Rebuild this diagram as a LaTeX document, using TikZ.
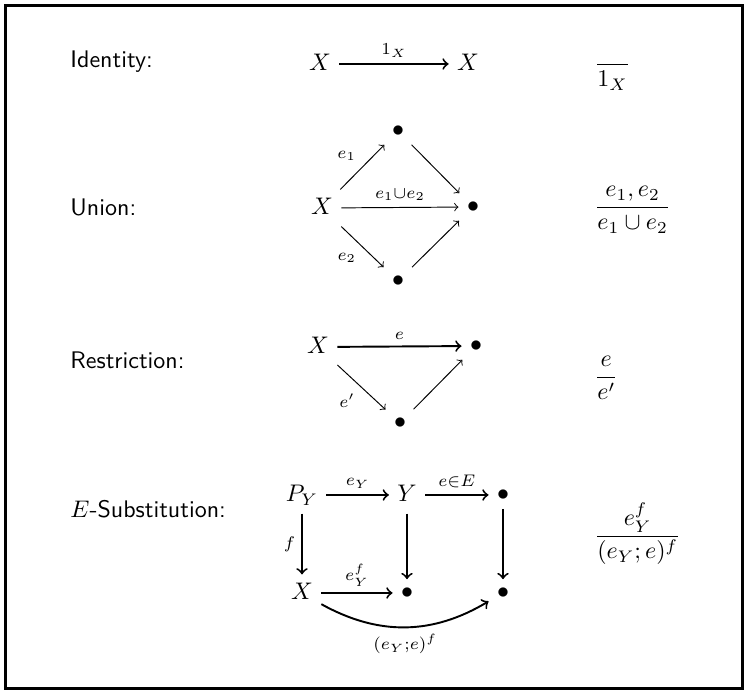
\documentclass[tikz,border=0pt]{standalone}
\usepackage{amsmath,amssymb}
\usetikzlibrary{arrows,positioning,calc}

\begin{document}
\begin{tikzpicture}[
    x=0.01465cm, y=-0.01465cm,
    rname/.style={font=\sffamily,anchor=west,inner sep=0pt},
    obj/.style={text height=1.6ex,text depth=0.35ex},
    pnt/.style={inner sep=3.33pt},
    infer/.style={anchor=base west,inner sep=0pt},
    arr/.style={->,>=to,line width=0.4pt},
    barr/.style={->,>=to,line width=0.8pt},
    lab/.style={inner sep=2.5pt,execute at begin node=$\scriptstyle,execute at end node=$}
]
    \useasboundingbox (0,0) rectangle (748,690);
    \draw[line width=1pt] (5.5,5.5) rectangle (742.5,688.5);

    \node[rname] (nid) at (70,62) {Identity:};
    \node[obj] (x1) at (320,64) {$X$};
    \node[obj] (x1r) at (468,64) {$X$};
    \draw[barr] (x1) -- node[lab,above] {1_X} (x1r);
    \node[infer] (f1) at (594,70) {$\dfrac{}{1_X}$};

    \node[rname] (nun) at (70,207) {Union:};
    \node[obj] (x2) at (322,208) {$X$};
    \node[pnt] (u2) at (398,131) {$\bullet$};
    \node[pnt] (m2) at (473,207) {$\bullet$};
    \node[pnt] (d2) at (398,281) {$\bullet$};
    \draw[arr] (x2) -- node[lab,above left] {e_1} (u2);
    \draw[arr] (u2) -- (m2);
    \draw[arr] (x2) -- node[lab,above] {e_1\cup e_2} (m2);
    \draw[arr] (x2) -- node[lab,below left] {e_2} (d2);
    \draw[arr] (d2) -- (m2);
    \node[infer] (f2) at (594,213) {$\dfrac{e_1,e_2}{e_1\cup e_2}$};

    \node[rname] (nre) at (70,360) {Restriction:};
    \node[obj] (x3) at (318,347) {$X$};
    \node[pnt] (m3) at (476,346) {$\bullet$};
    \node[pnt] (d3) at (400,423) {$\bullet$};
    \draw[barr] (x3) -- node[lab,above] {e} (m3);
    \draw[arr] (x3) -- node[lab,below left] {e'} (d3);
    \draw[arr] (d3) -- (m3);
    \node[infer] (f3) at (594,383) {$\dfrac{e}{e'}$};

    \node[rname] (nsu) at (70,509) {$E$-Substitution:};
    \node[obj] (py) at (302,495) {$P_Y$};
    \node[obj] (y4) at (407,495) {$Y$};
    \node[pnt] (t4) at (503,495) {$\bullet$};
    \node[obj] (x4) at (302,593) {$X$};
    \node[pnt] (b4) at (407,593) {$\bullet$};
    \node[pnt] (c4) at (503,593) {$\bullet$};
    \draw[barr] (py) -- node[lab,above] {e_Y} (y4);
    \draw[barr] (y4) -- node[lab,above] {e\in E} (t4);
    \draw[barr] (py) -- node[lab,left] {f} (x4);
    \draw[barr] (y4) -- (b4);
    \draw[barr] (t4) -- (c4);
    \draw[barr] (x4) -- node[lab,above] {e_Y^f} (b4);
    \draw[barr] (x4) to[bend right=30] node[lab,below] {(e_Y;e)^f} (c4);
    \node[infer] (f4) at (594,542) {$\dfrac{e_Y^f}{(e_Y;e)^f}$};
\end{tikzpicture}
\end{document}
